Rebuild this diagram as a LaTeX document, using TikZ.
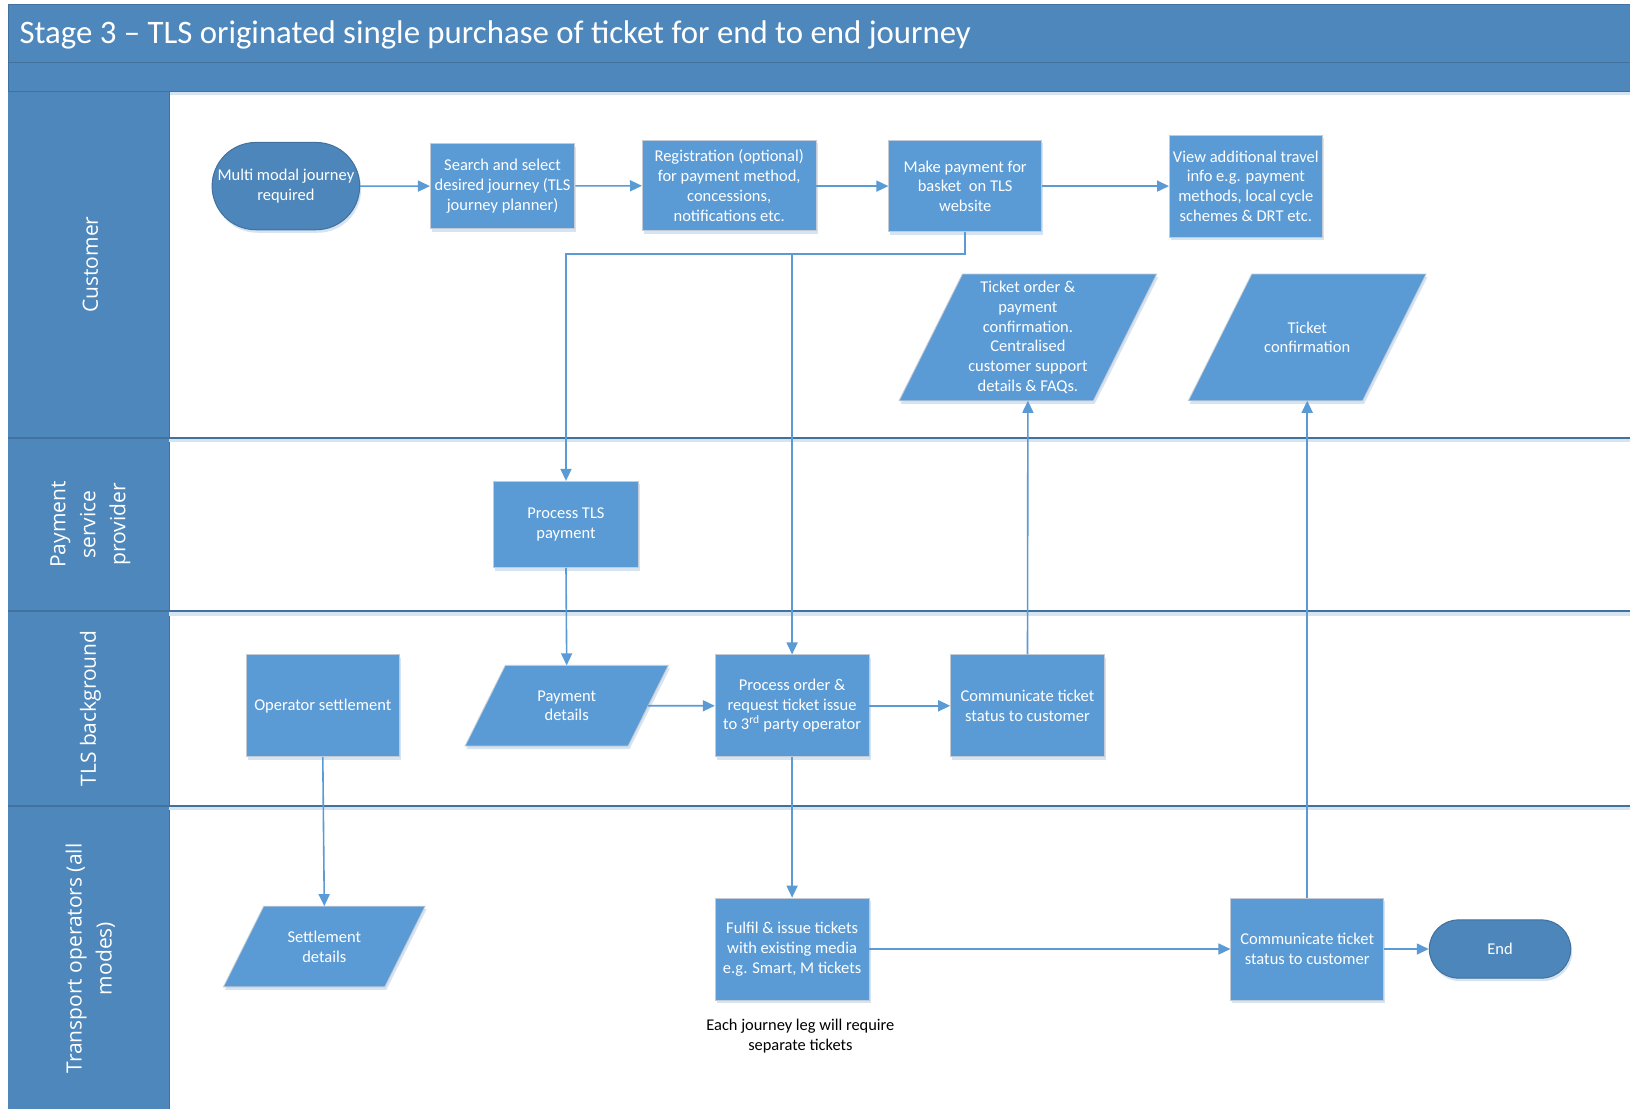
\documentclass[tikz,border=0pt]{standalone}
\usepackage{fontspec}
\setmainfont{Carlito}
\newfontfamily\lanefont{Open Sans}
\usetikzlibrary{arrows.meta,shapes.misc,shadows,calc}

\definecolor{boxblue}{HTML}{5B9BD5}
\definecolor{headblue}{HTML}{4E87BB}
\definecolor{termblue}{HTML}{4D86BA}
\definecolor{darkline}{HTML}{41719C}
\definecolor{edgegray}{HTML}{C3CCD6}
\definecolor{shadowblue}{HTML}{D6E3F0}

\pgfdeclarelayer{pool}
\pgfdeclarelayer{shapes}
\pgfsetlayers{pool,shapes,main}

\tikzset{
  boxtext/.style={text=white, align=center, font=\fontsize{16.5}{19.75}\selectfont},
  softshadow/.style={drop shadow={shadow xshift=1.5pt, shadow yshift=-3pt, fill=shadowblue, opacity=1}},
  procbox/.style={rectangle, fill=boxblue, draw=edgegray, line width=0.8pt, inner sep=2pt, boxtext, softshadow},
  % text holder of a data (parallelogram) symbol; the outline is drawn on the shapes layer
  databox/.style={rectangle, inner sep=0pt, outer sep=0pt, boxtext},
  parashape/.style={fill=boxblue, draw=edgegray, line width=0.8pt, softshadow},
  termbox/.style={rounded rectangle, fill=termblue, draw=darkline, line width=1pt, inner sep=2pt, boxtext, softshadow},
  flowarrow/.style={draw=boxblue, line width=1.6pt, -{Triangle[length=12pt,width=11pt]}},
  lanelabel/.style={rotate=90, text=white, align=center, font=\lanefont\fontsize{21}{30}\selectfont},
}

\begin{document}
\begin{tikzpicture}[x=1pt, y=-1pt]
\useasboundingbox (0,0) rectangle (1630,1109);

\begin{pgfonlayer}{pool}
\fill[white] (0,0) rectangle (1630,1109);
% pool header: title bar and second band
\fill[headblue] (8.3,4.2) rectangle (1632,91.5);
\draw[darkline, line width=1.2pt] (8.3,1109) -- (8.3,4.2) -- (1632,4.2);
\draw[darkline, line width=1.5pt] (8.3,62.4) -- (1632,62.4);
\fill[shadowblue] (169.4,91.5) rectangle (1632,95);
\draw[darkline, line width=1.2pt] (8.3,91.5) -- (1632,91.5);
% lane header column
\fill[headblue] (8.3,91.5) rectangle (169.4,1109);
\draw[darkline, line width=1.2pt] (169.4,91.5) -- (169.4,1109);
% lane separators
\foreach \yy in {437.6, 611.2, 805.6} {
  \fill[shadowblue] (169.4,\yy) rectangle (1632,\yy+4.5);
  \draw[darkline, line width=1.8pt] (8.3,\yy) -- (1632,\yy);
}
\end{pgfonlayer}

% title and lane names
\node[anchor=west, text=white, font=\fontsize{32.8}{38}\selectfont] (title) at (16,34.5)
  {Stage 3 -- TLS originated single purchase of ticket for end to end journey};
\node[lanelabel] (lanecust) at (90.4,264.5) {Customer};
\node[lanelabel] (lanepay) at (90.4,524.4) {Payment\\service\\provider};
\node[lanelabel] (lanetls) at (90.4,708.4) {TLS background};
\node[lanelabel] (laneops) at (90.4,958.5) {Transport operators (all\\modes)};

% customer lane
\node[termbox, minimum width=145.5pt, minimum height=87.3pt] (start) at (285.9,186.1) {Multi modal journey\\required};
\node[procbox, minimum width=144.5pt, minimum height=85.2pt] (search) at (502.6,186.1) {Search and select\\desired journey (TLS\\journey planner)};
\node[procbox, minimum width=173.6pt, minimum height=90.4pt] (reg) at (729.2,185.6) {Registration (optional)\\for payment method,\\concessions,\\notifications etc.};
\node[procbox, minimum width=152.8pt, minimum height=91.5pt] (pay) at (965.2,186.1) {Make payment for\\basket~ on TLS\\website};
\node[procbox, minimum width=152.8pt, minimum height=101.9pt] (info) at (1245.8,186.1) {View additional travel\\info e.g. payment\\methods, local cycle\\schemes \& DRT etc.};
\node[databox, minimum width=257.7pt, minimum height=126.7pt] (tord) at (1027.9,337.4) {Ticket order \&\\payment\\confirmation.\\Centralised\\customer support\\details \& FAQs.};
\node[databox, minimum width=237.7pt, minimum height=126.7pt] (tconf) at (1307.2,337.4) {Ticket\\confirmation};

% payment service provider lane
\node[procbox, minimum width=144.5pt, minimum height=86.3pt] (ptls) at (566,524.4) {Process TLS\\payment};

% TLS background lane
\node[procbox, minimum width=152.8pt, minimum height=101.9pt] (opset) at (322.8,705.8) {Operator settlement};
\node[databox, minimum width=203.3pt, minimum height=80.7pt] (pdet) at (566.7,705.7) {Payment\\details};
\node[procbox, minimum width=153.8pt, minimum height=101.9pt] (porder) at (792.1,705.8) {Process order \&\\request ticket issue\\to 3\textsuperscript{rd} party operator};
\node[procbox, minimum width=153.8pt, minimum height=101.9pt] (comm1) at (1027.5,705.8) {Communicate ticket\\status to customer};

% transport operators lane
\node[databox, minimum width=201.7pt, minimum height=80.7pt] (sdet) at (324.3,946.5) {Settlement\\details};
\node[procbox, minimum width=153.8pt, minimum height=101.9pt] (fulfil) at (792.1,949) {Fulfil \& issue tickets\\with existing media\\e.g. Smart, M tickets};
\node[procbox, minimum width=152.8pt, minimum height=101.9pt] (comm2) at (1307.2,949) {Communicate ticket\\status to customer};
\node[termbox, minimum width=145.5pt, minimum height=58.2pt] (finish) at (1500,949) {End};
\node[align=center, font=\fontsize{16.4}{19.75}\selectfont] (note) at (800.4,1036.4) {Each journey leg will require\\separate tickets};

% data symbols: parallelograms slanted by half their height
\begin{pgfonlayer}{shapes}
\foreach \n/\d in {tord/63.4, tconf/63.4, pdet/40.3, sdet/40.3} {
  \path[parashape] ($(\n.north west)+(\d,0)$) -- (\n.north east)
    -- ($(\n.south east)-(\d,0)$) -- (\n.south west) -- cycle;
}
\end{pgfonlayer}

% connectors
\draw[flowarrow] (start) -- (search);
\draw[flowarrow] (search) -- (reg);
\draw[flowarrow] (reg.east |- pay.west) -- (pay.west);
\draw[flowarrow] (pay) -- (info);
\coordinate (bend) at ($(pay.south)+(0,21.75)$);
\draw[flowarrow] (pay.south) -- (bend) -| (ptls.north);
\draw[flowarrow] (bend -| porder.north) -- (porder.north);
\draw[flowarrow] (ptls.south) -- (pdet.north);
\draw[flowarrow] ($(pdet.east)-(20.15,0)$) -- (porder.west);
\draw[flowarrow] (porder) -- (comm1);
\draw[flowarrow] (comm1.north) -- (tord.south);
\draw[flowarrow] (porder.south) -- (fulfil.north);
\draw[flowarrow] (opset.south) -- (sdet.north);
\draw[flowarrow] (fulfil) -- (comm2);
\draw[flowarrow] (comm2.north) -- (tconf.south);
\draw[flowarrow] (comm2) -- (finish);
\end{tikzpicture}
\end{document}
